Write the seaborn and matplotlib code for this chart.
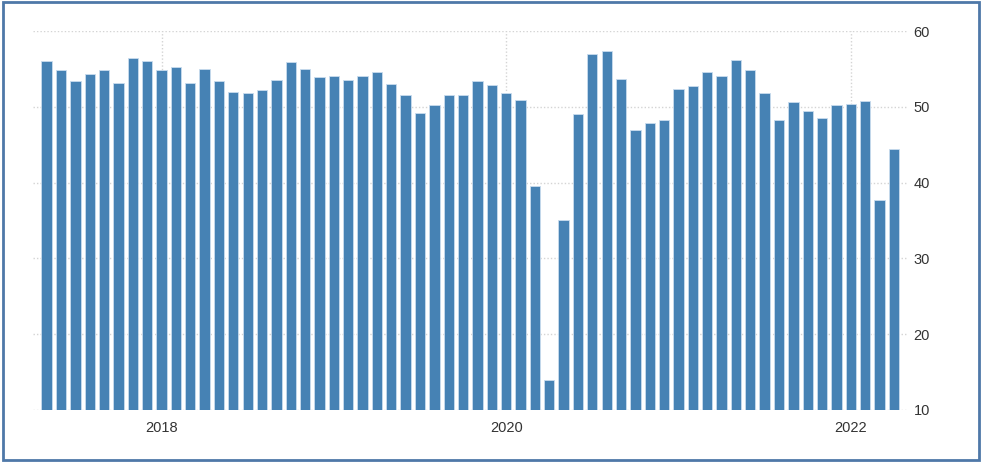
import matplotlib
matplotlib.use("Agg")
import matplotlib.pyplot as plt
import pandas as pd
import seaborn as sns
from matplotlib.patches import Rectangle

# Monthly readings, May 2017 .. Apr 2022
months = pd.date_range("2017-05-01", "2022-04-01", freq="MS").strftime("%Y-%m").tolist()
values = [
    56.0, 54.8, 53.4, 54.3, 54.8, 53.2, 56.4, 56.0,              # 2017 May-Dec
    54.8, 55.3, 53.2, 55.0, 53.4, 52.0, 51.8, 52.2,              # 2018
    53.6, 55.9, 55.0, 53.9,
    54.1, 53.6, 54.1, 54.6, 53.0, 51.5, 49.2, 50.2,              # 2019
    51.5, 51.5, 53.4, 52.9,
    51.8, 50.9, 39.6, 13.9, 35.0, 49.0, 56.9, 57.4,              # 2020
    53.7, 47.0, 47.8, 48.3,
    52.3, 52.7, 54.6, 54.1, 56.2, 54.9, 51.8, 48.3,              # 2021
    50.6, 49.5, 48.5, 50.2,
    50.4, 50.7, 37.7, 44.4,                                      # 2022 Jan-Apr
]
year_ticks = ["2018-01", "2020-01", "2022-01"]
year_labels = ["2018", "2020", "2022"]
y_ticks = [10, 20, 30, 40, 50, 60]

BAR_COLOR = "#4682b4"
GRID_COLOR = "#d4d4d4"
TEXT_COLOR = "#333333"

sns.set_style("white")
plt.rcParams["font.family"] = ["Liberation Sans", "DejaVu Sans"]

fig = plt.figure(figsize=(9.82, 4.62), dpi=100)
ax = fig.add_axes([0.0336, 0.1126, 0.8910, 0.8203])

df = pd.DataFrame({"month": months, "value": values})
sns.barplot(data=df, x="month", y="value", order=months, color=BAR_COLOR,
            saturation=1, width=0.72, edgecolor="#c9dcee", linewidth=0.6,
            ax=ax, zorder=2)

ax.set_ylim(10, 60)
ax.set_xlim(-0.95, len(months) - 0.02)

# ── Grid ────────────────────────────────────────────────────
tick_pos = [months.index(m) for m in year_ticks]
for y in y_ticks:
    ax.axhline(y, color=GRID_COLOR, lw=1, ls=(0, (1, 1.5)), zorder=1)
for x in tick_pos:
    ax.axvline(x, color=GRID_COLOR, lw=1, ls=(0, (1, 1.5)), zorder=1)

# ── Axes ────────────────────────────────────────────────────
ax.set_xticks(tick_pos)
ax.set_xticklabels(year_labels)
ax.yaxis.tick_right()
ax.set_yticks(y_ticks)
ax.set_yticklabels([str(v) for v in y_ticks])
ax.tick_params(axis="x", length=4, width=1, color=GRID_COLOR, pad=4,
               labelsize=10.5, labelcolor=TEXT_COLOR)
ax.tick_params(axis="y", length=0, pad=4, labelsize=10.5, labelcolor=TEXT_COLOR)
ax.set_xlabel("")
ax.set_ylabel("")
sns.despine(ax=ax, left=True, bottom=True, right=True, top=True)

# ── Frame around the whole picture ─────────────────────────
fig.patches.append(Rectangle((0.003, 0.005), 0.994, 0.99, transform=fig.transFigure,
                             fill=False, edgecolor="#4e78a8", linewidth=2))

fig.savefig("out.png", dpi=100)
